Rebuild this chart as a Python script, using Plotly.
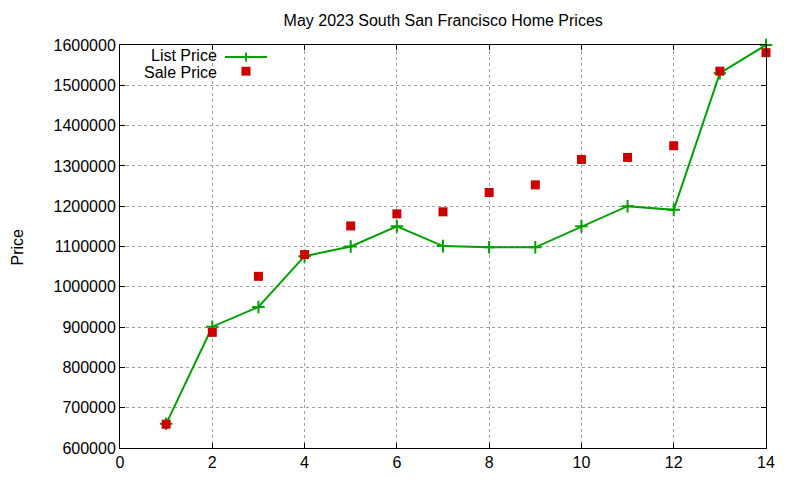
import plotly.graph_objects as go

# May 2023 listings
listing = [1, 2, 3, 4, 5, 6, 7, 8, 9, 10, 11, 12, 13, 14]
list_price = [660000, 901000, 950000, 1076000, 1100000, 1150000, 1101000,
              1098000, 1098000, 1150000, 1200000, 1191000, 1530000, 1600000]
sale_price = [659000, 887000, 1026000, 1080000, 1151000, 1181000, 1186000,
              1234000, 1253000, 1316000, 1321000, 1350000, 1535000, 1581000]

GREEN = '#00a000'
RED = '#cc0000'
FONT = 'Liberation Sans'

fig = go.Figure()
fig.add_trace(go.Scatter(x=listing, y=list_price, mode='lines+markers', name='List Price',
    line=dict(color=GREEN, width=2),
    marker=dict(symbol='cross-thin', size=9, line=dict(color=GREEN, width=2)),
    cliponaxis=False, showlegend=False))
fig.add_trace(go.Scatter(x=listing, y=sale_price, mode='markers', name='Sale Price',
    marker=dict(symbol='square', size=9, color=RED),
    cliponaxis=False, showlegend=False))

axis = dict(showline=True, linecolor='black', linewidth=1, mirror='ticks',
    ticks='inside', ticklen=5, tickcolor='black',
    showgrid=True, gridcolor='#a0a0a0', griddash='dot', gridwidth=1,
    zeroline=False, tickfont=dict(family=FONT, size=16, color='black'))

fig.update_xaxes(axis, range=[0, 14], dtick=2)
fig.update_yaxes(axis, range=[600000, 1600000], dtick=100000, tickformat='d')

# gnuplot style key: text on the left, sample on the right
fig.add_annotation(xref='paper', yref='paper', x=0.151, y=0.974, xanchor='right', yanchor='middle',
    text='List Price', showarrow=False, borderpad=0, font=dict(family=FONT, size=16, color='black'))
fig.add_annotation(xref='paper', yref='paper', x=0.151, y=0.933, xanchor='right', yanchor='middle',
    text='Sale Price', showarrow=False, borderpad=0, font=dict(family=FONT, size=16, color='black'))
fig.add_shape(type='line', xref='paper', yref='paper', x0=0.1625, x1=0.2276, y0=0.970, y1=0.970,
    line=dict(color=GREEN, width=2))
fig.add_shape(type='line', xref='paper', yref='paper', x0=0.188, x1=0.202, y0=0.970, y1=0.970,
    line=dict(color=GREEN, width=2))
fig.add_shape(type='line', xref='paper', yref='paper', x0=0.195, x1=0.195, y0=0.959, y1=0.981,
    line=dict(color=GREEN, width=2))
fig.add_shape(type='rect', xref='paper', yref='paper', x0=0.188, x1=0.202, y0=0.924, y1=0.946,
    line=dict(width=0), fillcolor=RED)

# y axis label
fig.add_annotation(xref='paper', yref='paper', x=-0.158, y=0.5, xanchor='center', yanchor='middle',
    text='Price', textangle=-90, showarrow=False, font=dict(family=FONT, size=16, color='black'))

fig.update_layout(
    width=800, height=480,
    margin=dict(l=112, r=42, t=37, b=40),
    plot_bgcolor='white', paper_bgcolor='white',
    title=dict(text='May 2023 South San Francisco Home Prices', x=0.544, xanchor='center',
        y=0.975, yanchor='middle', font=dict(family=FONT, size=16, color='black')),
)

fig.write_html('out.html')
